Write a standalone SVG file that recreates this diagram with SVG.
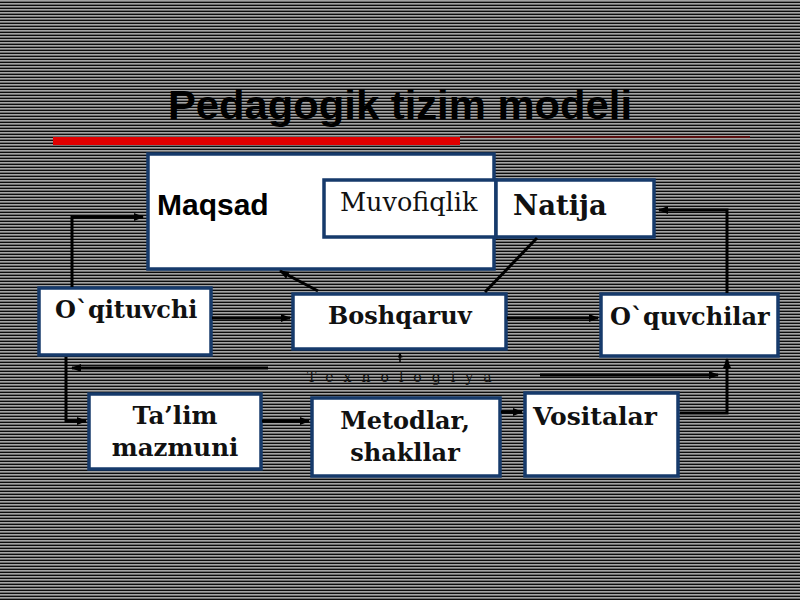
<svg xmlns="http://www.w3.org/2000/svg" width="800" height="600" viewBox="0 0 800 600">
<defs>
<pattern id="stripes" x="0" y="0" width="8" height="3" patternUnits="userSpaceOnUse">
<rect x="0" y="0" width="8" height="1" fill="#a4a4a4"/>
<rect x="0" y="1" width="8" height="1" fill="#6e6e6e"/>
<rect x="0" y="2" width="8" height="1" fill="#0c0c0c"/>
</pattern>
<marker id="arr" viewBox="0 0 10 10" refX="9" refY="5" markerWidth="5" markerHeight="5" orient="auto" markerUnits="userSpaceOnUse">
<path d="M0,0 L10,5 L0,10 z" fill="#000"/>
</marker>
<marker id="arrb" viewBox="0 0 10 10" refX="9" refY="5" markerWidth="10" markerHeight="10" orient="auto" markerUnits="userSpaceOnUse">
<path d="M0,1 L10,5 L0,9 z" fill="#000"/>
</marker>
</defs>
<style>
.box{fill:#ffffff;stroke:#163a6b;stroke-width:3.5}
.serifB{font-family:"DejaVu Serif","Liberation Serif",serif;font-weight:bold;fill:#111}
.serif{font-family:"DejaVu Serif","Liberation Serif",serif;fill:#111}
.sansB{font-family:"Liberation Sans",Arial,sans-serif;font-weight:bold;fill:#000}
.conn{fill:none;stroke:#000;stroke-width:3}
</style>
<rect x="0" y="0" width="800" height="600" fill="url(#stripes)"/>

<g id="title">
<text class="sansB" x="168" y="119" font-size="41" textLength="464" lengthAdjust="spacingAndGlyphs">Pedagogik tizim modeli</text>
<rect x="53" y="137" width="407" height="8" fill="#e00000"/>
<line x1="460" y1="137" x2="750" y2="137" stroke="#5a1010" stroke-width="2"/>
</g>

<g id="maqsad">
<rect class="box" x="148" y="154" width="346" height="115"/>
<text class="sansB" x="157" y="215" font-size="30">Maqsad</text>
</g>
<g id="muvofiqlik">
<rect class="box" x="324" y="180" width="172" height="57"/>
<text class="serif" x="340" y="211" font-size="25.5">Muvofiqlik</text>
</g>
<g id="natija">
<rect class="box" x="496" y="180" width="158" height="57"/>
<text class="serifB" x="513" y="215" font-size="27.5">Natija</text>
</g>
<g id="oqituvchi">
<rect class="box" x="39" y="288" width="172" height="67"/>
<text class="serifB" x="55" y="318" font-size="24">O`qituvchi</text>
</g>
<g id="boshqaruv">
<rect class="box" x="293" y="294" width="213" height="55"/>
<text class="serifB" x="328" y="324" font-size="24">Boshqaruv</text>
</g>
<g id="oquvchilar">
<rect class="box" x="601" y="294" width="177" height="62"/>
<text class="serifB" x="610" y="325" font-size="24">O`quvchilar</text>
</g>
<g id="talim">
<rect class="box" x="89" y="394" width="172" height="75"/>
<text class="serifB" x="175" y="424" font-size="24.5" text-anchor="middle">Ta’lim</text>
<text class="serifB" x="175" y="456" font-size="24.5" text-anchor="middle">mazmuni</text>
</g>
<g id="metodlar">
<rect class="box" x="312" y="398" width="188" height="78"/>
<text class="serifB" x="405" y="429" font-size="24" text-anchor="middle">Metodlar,</text>
<text class="serifB" x="405" y="461" font-size="24" text-anchor="middle">shakllar</text>
</g>
<g id="vositalar">
<rect class="box" x="525" y="393" width="153" height="83"/>
<text class="serifB" x="533" y="425" font-size="25">Vositalar</text>
</g>
<g id="texnologiya">
<text class="serif" x="307" y="382" font-size="14" letter-spacing="10">Texnologiya</text>
</g>

<g id="connectors">
<polyline class="conn" points="72,287 72,217 143,217" marker-end="url(#arrb)"/>
<line class="conn" x1="318" y1="291" x2="280" y2="271" marker-end="url(#arrb)"/>
<line class="conn" x1="537" y1="238" x2="485" y2="292"/>
<polyline class="conn" points="727,293 727,210 659,210" marker-end="url(#arrb)"/>
<line class="conn" x1="212" y1="318" x2="290" y2="318" marker-end="url(#arrb)"/>
<line class="conn" x1="507" y1="318" x2="598" y2="318" marker-end="url(#arrb)"/>
<polyline class="conn" points="66,357 66,421 86,421" marker-end="url(#arrb)"/>
<line class="conn" x1="268" y1="368" x2="72" y2="368" marker-end="url(#arrb)"/>
<line x1="400" y1="362" x2="400" y2="353" stroke="#000" stroke-width="1.5" marker-end="url(#arr)"/>
<line class="conn" x1="540" y1="375" x2="718" y2="375" marker-end="url(#arrb)"/>
<polyline class="conn" points="680,413 727,413 727,359" marker-end="url(#arrb)"/>
<line class="conn" x1="262" y1="421" x2="309" y2="421" marker-end="url(#arrb)"/>
<line class="conn" x1="501" y1="412" x2="522" y2="412" marker-end="url(#arrb)"/>
</g>
</svg>
